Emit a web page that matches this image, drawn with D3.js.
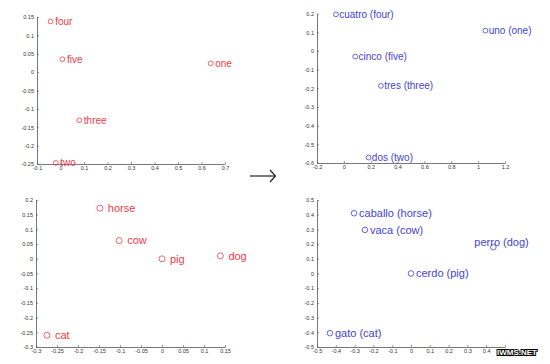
<!DOCTYPE html>
<html>
<head>
<meta charset="utf-8">
<script src="https://cdn.jsdelivr.net/npm/d3@7"></script>
<style>
  body { margin: 0; background: #fff; }
  svg { display: block; font-family: "Liberation Sans", Arial, sans-serif; }
</style>
</head>
<body>
<div id="chart"></div>
<script>
// English numbers (top left)
var numEnNames = ["four", "five", "one", "three", "two"]
var numEnX = [-0.042, 0.008, 0.639, 0.08, -0.02]
var numEnY = [0.138, 0.035, 0.024, -0.131, -0.247]
var numEnXTicks = [-0.1, 0, 0.1, 0.2, 0.3, 0.4, 0.5, 0.6, 0.7]
var numEnYTicks = [-0.25, -0.2, -0.15, -0.1, -0.05, 0, 0.05, 0.1, 0.15]

// Spanish numbers (top right)
var numEsNames = ["cuatro (four)", "uno (one)", "cinco (five)", "tres (three)", "dos (two)"]
var numEsX = [-0.059, 1.054, 0.085, 0.276, 0.184]
var numEsY = [0.196, 0.109, -0.03, -0.187, -0.571]
var numEsXTicks = [-0.2, 0, 0.2, 0.4, 0.6, 0.8, 1, 1.2]
var numEsYTicks = [-0.6, -0.5, -0.4, -0.3, -0.2, -0.1, 0, 0.1, 0.2]

// English animals (bottom left)
var aniEnNames = ["horse", "cow", "pig", "dog", "cat"]
var aniEnX = [-0.148, -0.102, 0, 0.139, -0.274]
var aniEnY = [0.172, 0.062, 0, 0.01, -0.26]
var aniEnXTicks = [-0.3, -0.25, -0.2, -0.15, -0.1, -0.05, 0, 0.05, 0.1, 0.15]
var aniEnYTicks = [-0.3, -0.25, -0.2, -0.15, -0.1, -0.05, 0, 0.05, 0.1, 0.15, 0.2]

// Spanish animals (bottom right)
var aniEsNames = ["caballo (horse)", "vaca (cow)", "perro (dog)", "cerdo (pig)", "gato (cat)"]
var aniEsX = [-0.303, -0.245, 0.438, 0, -0.431]
var aniEsY = [0.41, 0.297, 0.179, 0, -0.406]
var aniEsXTicks = [-0.5, -0.4, -0.3, -0.2, -0.1, 0, 0.1, 0.2, 0.3, 0.4, 0.5]
var aniEsYTicks = [-0.5, -0.4, -0.3, -0.2, -0.1, 0, 0.1, 0.2, 0.3, 0.4, 0.5]

var RED = "#ee3b4a", BLUE = "#4343d6"

var svg = d3.select("#chart").append("svg")
  .attr("width", 550)
  .attr("height", 364)

function fmt(d) { return String(+d.toFixed(2)) }

// draw one scatter panel
function drawPanel(p) {
  var xScale = d3.scaleLinear().domain(d3.extent(p.xTicks)).range([p.left, p.right])
  var yScale = d3.scaleLinear().domain(d3.extent(p.yTicks)).range([p.bottom, p.top])

  var xAxis = d3.axisBottom(xScale).tickValues(p.xTicks).tickFormat(fmt).tickSizeInner(-2).tickSizeOuter(0).tickPadding(3)
  var yAxis = d3.axisLeft(yScale).tickValues(p.yTicks).tickFormat(fmt).tickSizeInner(-2).tickSizeOuter(0).tickPadding(3)

  var gx = svg.append("g")
    .attr("transform", "translate(0," + p.bottom + ")")
    .call(xAxis)
  var gy = svg.append("g")
    .attr("transform", "translate(" + p.left + ",0)")
    .call(yAxis)

  ;[gx, gy].forEach(function(g){
    g.select(".domain").attr("stroke", "#555").attr("stroke-width", 0.8)
    g.selectAll(".tick line").attr("stroke", "#555").attr("stroke-width", 0.6)
    g.selectAll(".tick text").attr("fill", "#333").style("font-size", "5.5px")
  })
  gx.selectAll(".tick text").attr("dy", "0.5em")

  var pts = svg.append("g").selectAll("g")
    .data(p.names)
    .enter().append("g")
    .attr("transform", function(d, i) { return "translate(" + xScale(p.xs[i]) + "," + yScale(p.ys[i]) + ")" })

  pts.append("circle")
    .attr("r", p.r)
    .attr("fill", "none")
    .attr("stroke", p.color)
    .attr("stroke-width", 0.8)

  pts.append("text")
    .text(function(d){ return d })
    .attr("x", function(d){ return d == "perro (dog)" ? -19 : p.dx })
    .attr("y", function(d){ return d == "perro (dog)" ? -5 : 0 })
    .attr("dy", "0.35em")
    .attr("fill", p.color)
    .style("font-size", p.fs + "px")
}

drawPanel({names: numEnNames, xs: numEnX, ys: numEnY, xTicks: numEnXTicks, yTicks: numEnYTicks,
  left: 37, right: 225, top: 17, bottom: 164, color: RED, r: 2.4, dx: 4.5, fs: 10})
drawPanel({names: numEsNames, xs: numEsX, ys: numEsY, xTicks: numEsXTicks, yTicks: numEsYTicks,
  left: 317, right: 505, top: 13.6, bottom: 163, color: BLUE, r: 2.4, dx: 3.3, fs: 10})
drawPanel({names: aniEnNames, xs: aniEnX, ys: aniEnY, xTicks: aniEnXTicks, yTicks: aniEnYTicks,
  left: 36, right: 225, top: 200, bottom: 347, color: RED, r: 3, dx: 8, fs: 11})
drawPanel({names: aniEsNames, xs: aniEsX, ys: aniEsY, xTicks: aniEsXTicks, yTicks: aniEsYTicks,
  left: 317, right: 505, top: 200, bottom: 347, color: BLUE, r: 2.8, dx: 5, fs: 11})

// arrow between the panels
svg.append("line")
  .attr("x1", 250).attr("y1", 176).attr("x2", 275).attr("y2", 176)
  .attr("stroke", "#222").attr("stroke-width", 1.2)
svg.append("path")
  .attr("d", "M270,170 L275.5,176 L270,182")
  .attr("fill", "none").attr("stroke", "#222").attr("stroke-width", 1.2)

// watermark
svg.append("text")
  .attr("x", 517).attr("y", 355)
  .attr("text-anchor", "middle")
  .text("IWMS.NET")
  .attr("fill", "#fff")
  .attr("stroke", "#000")
  .attr("stroke-width", 2)
  .attr("paint-order", "stroke")
  .style("font-size", "8px")
  .style("font-weight", "bold")
</script>
</body>
</html>
